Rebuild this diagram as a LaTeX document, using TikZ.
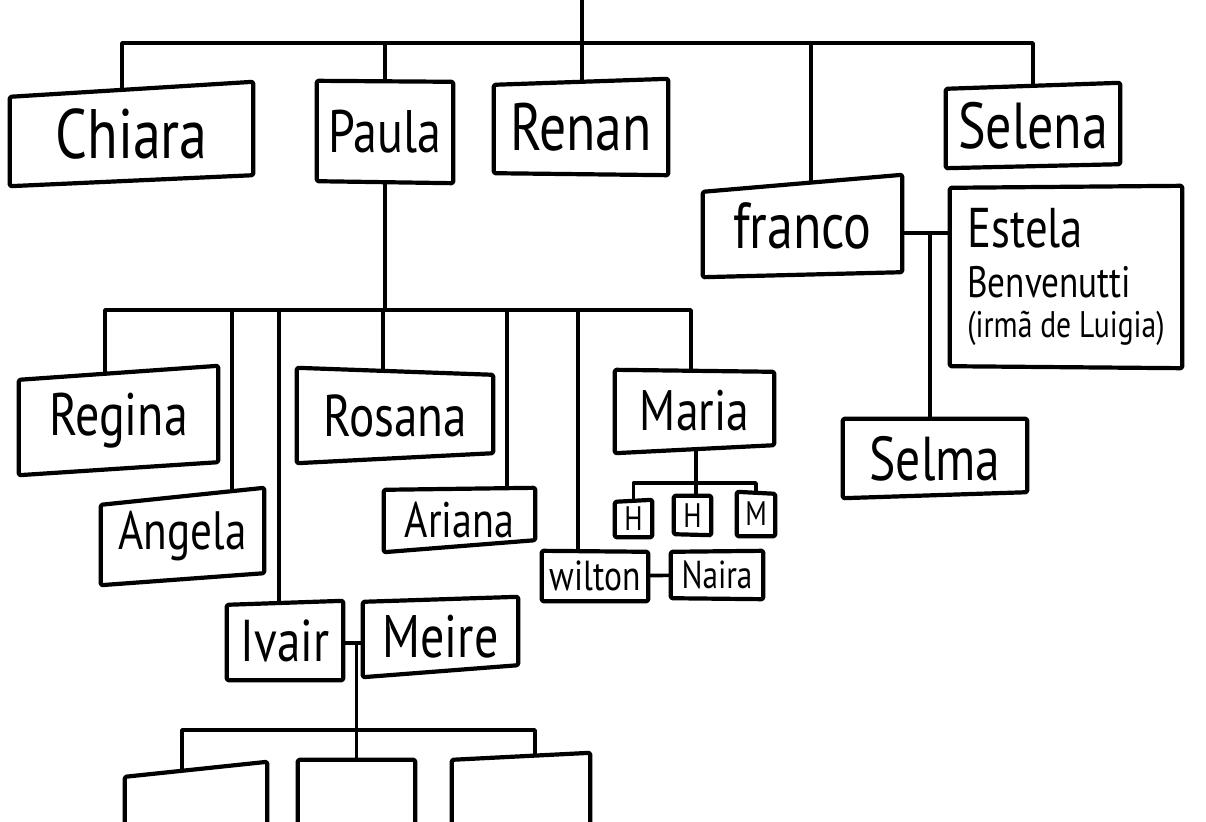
\documentclass[tikz,border=0pt]{standalone}
\usepackage{fontspec}
\newfontfamily\handfont{PT Sans}[FakeStretch=0.8]
\newcommand\handsize[1]{\fontsize{#1}{#1}\selectfont}
\usetikzlibrary{calc}
\pgfdeclarelayer{back}
\pgfdeclarelayer{lines}
\pgfdeclarelayer{boxes}
\pgfsetlayers{back,lines,boxes,main}

\tikzset{
  person/.style={inner sep=0pt, font=\handfont, text=black},
  link/.style={draw=black, line width=3.6pt, line join=round},
  outline/.style={draw=black, fill=white, line width=4.2pt, line join=round, rounded corners=1.5pt},
}

\begin{document}
\begin{tikzpicture}[x=1pt, y=-1pt]
\useasboundingbox (0,0) rectangle (1206,821);
\clip (0,0) rectangle (1206,821);
\begin{pgfonlayer}{back}
  \fill[white] (0,0) rectangle (1206,821);
\end{pgfonlayer}

% ---- people ----
\node[person, minimum width=243pt, minimum height=104pt] (chiara) at (131.5,134) {\handsize{70}Chiara};
\node[person, minimum width=136pt, minimum height=102pt] (paula)  at (385,132)   {\handsize{60}Paula};
\node[person, minimum width=174pt, minimum height=96pt]  (renan)  at (581,127)   {\handsize{67}Renan};
\node[person, minimum width=174pt, minimum height=85pt]  (selena) at (1033,125.5){\handsize{65}Selena};
\node[person, minimum width=199pt, minimum height=102pt] (franco) at (802.5,226) {\handsize{65}franco};
\node[person, minimum width=232pt, minimum height=182pt, align=left,
      font=\handfont\fontsize{44}{46}\selectfont] (estela) at (1066,277)
  {{\handsize{56}Estela}\\[4pt]Benvenutti\\[-6pt]{\handsize{37}(irmã de Luigia)}};
\node[person, minimum width=184pt, minimum height=79pt]  (selma)  at (935,458.5) {\handsize{62}Selma};

\node[person, minimum width=199pt, minimum height=109pt] (regina) at (118.5,420.5){\handsize{60}Regina};
\node[person, minimum width=163pt, minimum height=97pt]  (angela) at (182.5,536.5){\handsize{54}Angela};
\node[person, minimum width=196pt, minimum height=95pt]  (rosana) at (395,415.5)  {\handsize{59}Rosana};
\node[person, minimum width=151pt, minimum height=64pt]  (ariana) at (459.5,520)  {\handsize{50}Ariana};
\node[person, minimum width=159pt, minimum height=85pt]  (maria)  at (694.5,410.5){\handsize{57}Maria};
\node[person, minimum width=37pt, minimum height=37pt]   (h1)     at (633.5,518.5){\handsize{34}H};
\node[person, minimum width=37pt, minimum height=39pt]   (h2)     at (692.5,515.5){\handsize{34}H};
\node[person, minimum width=38pt, minimum height=44pt]   (m)      at (756,514)    {\handsize{34}M};
\node[person, minimum width=106pt, minimum height=50pt]  (wilton) at (595,576)    {\handsize{42}wilton};
\node[person, minimum width=92pt, minimum height=48pt]   (naira)  at (717,575)    {\handsize{39}Naira};
\node[person, minimum width=116pt, minimum height=79pt]  (ivair)  at (285,640.5)  {\handsize{59}Ivair};
\node[person, minimum width=155pt, minimum height=80pt]  (meire)  at (440.5,637)  {\handsize{60}Meire};

\node[person, minimum width=142pt, minimum height=100pt] (c1) at (196,812)   {};
\node[person, minimum width=117pt, minimum height=100pt] (c2) at (356.5,810) {};
\node[person, minimum width=138pt, minimum height=100pt] (c3) at (521,803)   {};

% ---- levels of the tree ----
\coordinate (top)  at (582,0);
\coordinate (bus1) at (0,43);
\coordinate (bus2) at (0,310);
\coordinate (bus3) at (0,483);
\coordinate (bus4) at (0,730);
\coordinate (fe)   at (0,233);
\coordinate (im)   at (0,643);

\begin{pgfonlayer}{lines}
  % first generation
  \draw[link] (top) -- (top |- renan.center);
  \draw[link] ([xshift=-9.5pt]chiara.center) -- ([xshift=-9.5pt]chiara.center |- bus1)
              -- (selena.center |- bus1) -- (selena.center);
  \draw[link] (paula.center) -- (paula.center |- bus1);
  \draw[link] ([xshift=8.5pt]franco.center) -- ([xshift=8.5pt]franco.center |- bus1);
  % Franco and Estela, daughter Selma
  \draw[link] (franco.center |- fe) -- (estela.center |- fe);
  \draw[link] ([xshift=-5pt]selma.center) -- ([xshift=-5pt]selma.center |- fe);
  % children of Paula
  \draw[link] (paula.center) -- (paula.center |- bus2);
  \draw[link] ([xshift=-13.5pt]regina.center) -- ([xshift=-13.5pt]regina.center |- bus2)
              -- ([xshift=-3.5pt]maria.center |- bus2) -- ([xshift=-3.5pt]maria.center);
  \draw[link] ([xshift=49.5pt]angela.center) -- ([xshift=49.5pt]angela.center |- bus2);
  \draw[link] ([xshift=-6pt]ivair.center) -- ([xshift=-6pt]ivair.center |- bus2);
  \draw[link] ([xshift=-12pt]rosana.center) -- ([xshift=-12pt]rosana.center |- bus2);
  \draw[link] ([xshift=47.5pt]ariana.center) -- ([xshift=47.5pt]ariana.center |- bus2);
  \draw[link] ([xshift=-17pt]wilton.center) -- ([xshift=-17pt]wilton.center |- bus2);
  % children of Maria
  \draw[link] ([xshift=1.5pt]maria.center) -- ([xshift=1.5pt]maria.center |- bus3);
  \draw[link] (h1.center) -- (h1.center |- bus3) -- (m.center |- bus3) -- (m.center);
  \draw[link] ([xshift=3.5pt]h2.center) -- ([xshift=3.5pt]h2.center |- bus3);
  % Wilton and Naira
  \draw[link] (wilton.center) -- (naira.center);
  % Ivair and Meire, three children
  \draw[link] (ivair.center |- im) -- (meire.center |- im);
  \draw[link] (c2.center) -- (c2.center |- im);
  \draw[link] ([xshift=-14pt]c1.center) -- ([xshift=-14pt]c1.center |- bus4)
              -- ([xshift=14pt]c3.center |- bus4) -- ([xshift=14pt]c3.center);
\end{pgfonlayer}

% ---- hand-drawn box outlines (corner drops: nw/ne from top, se/sw from bottom) ----
\begin{pgfonlayer}{boxes}
  \foreach \n/\a/\b/\c/\d in {chiara/15/0/11/0, paula/0/1/0/2, renan/6/0/0/2,
      selena/6/0/4/0, franco/17/0/5/0, estela/2/0/0/2, selma/0/0/6/0,
      regina/14/0/13/0, angela/17/0/12/0, rosana/0/7/10/0, ariana/2/0/12/0,
      maria/2/4/8/0, h1/2/0/0/0, h2/0/0/0/1, m/0/2/0/0, wilton/0/1/0/0,
      naira/1/0/0/1, ivair/4/0/0/0, meire/5/0/12/0, c1/15/0/0/0, c2/0/0/0/0, c3/7/0/0/0}
  {
    \draw[outline] ($(\n.north west)+(0,\a)$) -- ($(\n.north east)+(0,\b)$)
      -- ($(\n.south east)+(0,-\c)$) -- ($(\n.south west)+(0,-\d)$) -- cycle;
  }
\end{pgfonlayer}
\end{tikzpicture}
\end{document}
